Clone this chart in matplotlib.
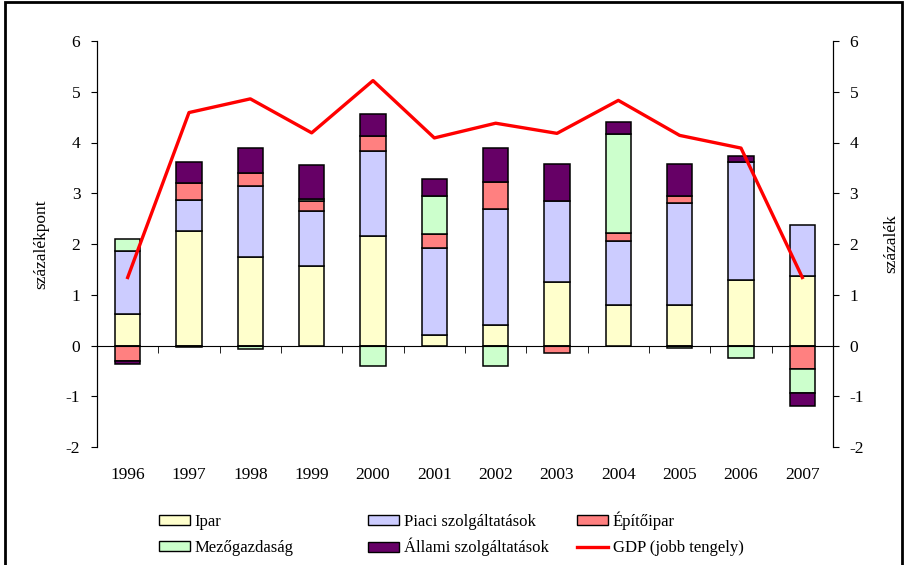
import numpy as np
import matplotlib.pyplot as plt
from matplotlib.patches import Patch, Rectangle
from matplotlib.lines import Line2D
from matplotlib.transforms import blended_transform_factory

years = ['1996', '1997', '1998', '1999', '2000', '2001',
         '2002', '2003', '2004', '2005', '2006', '2007']
ipar = [0.63, 2.26, 1.75, 1.57, 2.15, 0.20, 0.41, 1.25, 0.80, 0.80, 1.30, 1.36]
piaci = [1.23, 0.60, 1.39, 1.08, 1.68, 1.72, 2.27, 1.60, 1.25, 2.01, 2.32, 1.01]
epitoipar = [-0.30, 0.34, 0.25, 0.20, 0.29, 0.27, 0.55, -0.15, 0.16, 0.13, 0.0, -0.46]
mezogazdasag = [0.24, -0.02, -0.06, 0.03, -0.40, 0.76, -0.41, 0.0, 1.96, -0.04, -0.24, -0.47]
allami = [-0.07, 0.41, 0.50, 0.68, 0.45, 0.33, 0.66, 0.73, 0.23, 0.64, 0.11, -0.27]
gdp = [1.34, 4.59, 4.86, 4.19, 5.22, 4.09, 4.38, 4.18, 4.83, 4.14, 3.89, 1.34]

series = [
    ('Ipar', ipar, '#FFFFCC'),
    ('Piaci szolgáltatások', piaci, '#CCCCFF'),
    ('Építőipar', epitoipar, '#FF8080'),
    ('Mezőgazdaság', mezogazdasag, '#CCFFCC'),
    ('Állami szolgáltatások', allami, '#660066'),
]

plt.rcParams['font.family'] = ['Liberation Serif', 'DejaVu Serif']
plt.rcParams['axes.unicode_minus'] = False
fs = 12.5
leg_fs = 12

fig = plt.figure(figsize=(9.06, 5.65), dpi=100)
ax = fig.add_axes([97 / 906, 1 - 447 / 565, (833 - 97) / 906, (447 - 41) / 565])

x = np.arange(len(years))
pos_base = np.zeros(len(years))
neg_base = np.zeros(len(years))
for name, vals, color in series:
    vals = np.array(vals)
    bottoms = np.where(vals >= 0, pos_base, neg_base)
    keep = vals != 0
    ax.bar(x[keep], vals[keep], bottom=bottoms[keep], width=0.41, color=color,
           edgecolor='black', linewidth=1.1, zorder=3)
    pos_base += np.where(vals > 0, vals, 0)
    neg_base += np.where(vals < 0, vals, 0)

ax.set_xlim(-0.5, len(years) - 0.5)
ax.set_ylim(-2, 6)
ax.set_yticks(range(-2, 7))
ax.tick_params(axis='y', direction='out', length=4, labelsize=fs, pad=8)
ax.set_ylabel('százalékpont', fontsize=fs, labelpad=12)

# x axis sits on zero, year labels below the plot
ax.spines['top'].set_visible(False)
ax.spines['bottom'].set_position(('data', 0))
ax.spines['bottom'].set_zorder(4)
ax.set_xticks(x)
ax.set_xticklabels([])
ax.tick_params(axis='x', which='major', length=0)
ax.set_xticks(x[:-1] + 0.5, minor=True)
ax.tick_params(axis='x', which='minor', direction='out', length=5)
trans = blended_transform_factory(ax.transData, ax.transAxes)
for xi, yr in zip(x, years):
    ax.text(xi, -0.07, yr, transform=trans, ha='center', va='center', fontsize=fs)

ax2 = ax.twinx()
ax2.set_ylim(-2, 6)
ax2.set_yticks(range(-2, 7))
ax2.tick_params(axis='y', direction='out', length=4, labelsize=fs, pad=8)
ax2.spines['top'].set_visible(False)
ax2.spines['bottom'].set_visible(False)
ax2.plot(x, gdp, color='#FF0000', linewidth=2.4, zorder=5)
ax2.set_ylabel('százalék', fontsize=fs, rotation=90, labelpad=14)

# legend in three columns (x, top, row spacing)
legend_cols = [
    (159, 514, 0.62,
     [Patch(facecolor='#FFFFCC', edgecolor='black'), Patch(facecolor='#CCFFCC', edgecolor='black')],
     ['Ipar', 'Mezőgazdaság']),
    (368, 514, 0.48,
     [Patch(facecolor='#CCCCFF', edgecolor='black'), Patch(facecolor='#660066', edgecolor='black')],
     ['Piaci szolgáltatások', 'Állami szolgáltatások']),
    (577, 511, 0.66,
     [Patch(facecolor='#FF8080', edgecolor='black'), Line2D([], [], color='#FF0000', linewidth=2.4)],
     ['Építőipar', 'GDP (jobb tengely)']),
]
for xpos, ypos, spacing, handles, labels in legend_cols:
    fig.legend(handles, labels, loc='upper left', bbox_to_anchor=(xpos / 906, 1 - ypos / 565),
               frameon=False, fontsize=leg_fs, handlelength=1.85, handleheight=0.55,
               handletextpad=0.3, labelspacing=spacing, borderaxespad=0, borderpad=0)

fig.patches.append(Rectangle((5 / 906, -0.02), 897 / 906, 1.0 - 2 / 565 + 0.02,
                             transform=fig.transFigure, fill=False,
                             edgecolor='black', linewidth=2))

fig.savefig('out.png', dpi=100)
